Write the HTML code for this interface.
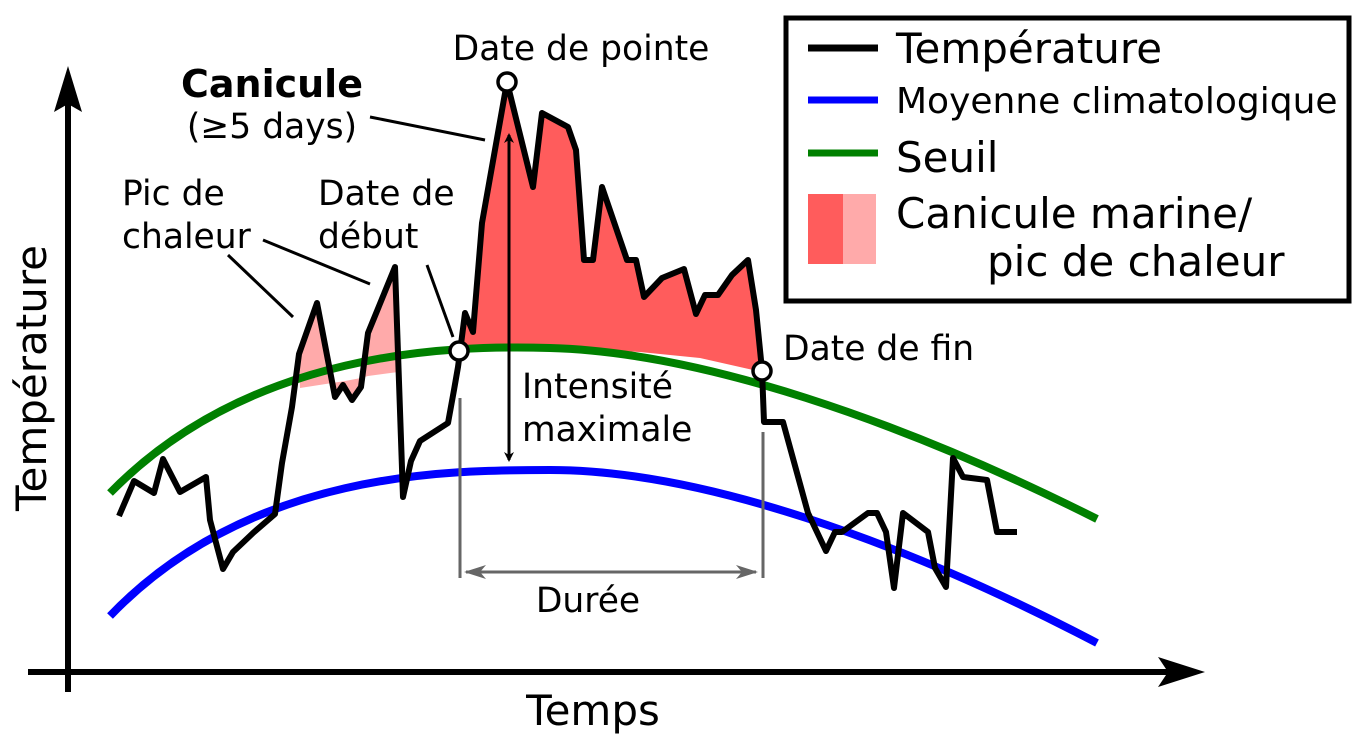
<!DOCTYPE html>
<html><head><meta charset="utf-8"><style>
html,body{margin:0;padding:0;background:#fff;}
svg{display:block;font-family:"DejaVu Sans","Liberation Sans",sans-serif;}
</style></head><body>
<svg width="1366" height="741" viewBox="0 0 1366 741" xmlns="http://www.w3.org/2000/svg">
<defs>
<marker id="ab" markerWidth="10" markerHeight="10" refX="8" refY="5" orient="auto-start-reverse" markerUnits="userSpaceOnUse"><path d="M0,0 L10,5 L0,10 L3,5 Z" fill="#000"/></marker>
<marker id="ag" markerWidth="22" markerHeight="14" refX="20" refY="7" orient="auto-start-reverse" markerUnits="userSpaceOnUse"><path d="M0,0 L22,7 L0,14 L6,7 Z" fill="#666"/></marker>
</defs>
<polygon fill="#ffaaaa" points="299,354 317,303 335,397 343,385 352,400 361,387 368,333 395,267 398,372 368,376 361,378 345,381 300,388"/>
<polygon fill="#ff5c5c" points="459,351 465,313 473,332 482,223 507,82 533,187 542,113 568,127 576,150 584,260 593,260 602,187 627,260 636,260 644,297 662,278 684,269 696,314 705,295 718,295 732,275 748,260 756,310 762,372 700,358 640,352 580,349 520,349 470,351"/>
<path d="M110,616 C 250,470 450,470 550,470 C 700,470 900,540 1097,643" fill="none" stroke="#0000ff" stroke-width="8"/>
<path d="M110,493 C 250,350 450,345 550,348 C 700,352 900,420 1097,519" fill="none" stroke="#008000" stroke-width="8"/>
<line x1="460" y1="398" x2="460" y2="578" stroke="#666" stroke-width="3"/>
<line x1="763" y1="432" x2="763" y2="578" stroke="#666" stroke-width="3"/>
<line x1="466" y1="572" x2="756" y2="572" stroke="#666" stroke-width="3" marker-start="url(#ag)" marker-end="url(#ag)"/>
<polyline fill="none" stroke="#000" stroke-width="6" stroke-linejoin="round" points="119,516 134,481 154,493 163,459 180,492 206,477 210,520 223,569 233,552 253,533 275,514 282,463 292,407 299,354 317,303 335,397 343,385 352,400 361,387 368,333 395,267 403,497 411,461 420,441 448,423 454,390 458,367 460,352 465,313 473,332 482,223 507,82 533,187 542,113 568,127 576,150 584,260 593,260 602,187 627,260 636,260 644,297 662,278 684,269 696,314 705,295 718,295 732,275 748,260 756,310 762,370 764,422 783,422 808,513 826,551 835,532 842,532 868,513 877,513 886,532 894,588 903,513 928,532 935,568 946,587 953,458 963,477 987,480 997,532 1017,532"/>
<line x1="509" y1="135" x2="509" y2="460" stroke="#000" stroke-width="3" marker-start="url(#ab)" marker-end="url(#ab)"/>
<g stroke="#000" stroke-width="3">
<line x1="370" y1="117" x2="485" y2="140"/>
<line x1="228" y1="255" x2="293" y2="317"/>
<line x1="263" y1="240" x2="370" y2="284"/>
<line x1="427" y1="265" x2="453" y2="337"/>
</g>
<g fill="#fff" stroke="#000" stroke-width="3.5">
<circle cx="459" cy="351" r="9"/>
<circle cx="507" cy="82" r="9"/>
<circle cx="762" cy="371" r="9"/>
</g>
<line x1="68" y1="692" x2="68" y2="90" stroke="#000" stroke-width="6"/>
<path d="M68,66 L82,112 L68,104 L54,112 Z" fill="#000"/>
<line x1="28" y1="672" x2="1180" y2="672" stroke="#000" stroke-width="6"/>
<path d="M1205,672 L1158,657 L1168,672 L1158,687 Z" fill="#000"/>
<g fill="#000" font-size="34.5">
<text x="581" y="60" text-anchor="middle">Date de pointe</text>
<text x="272" y="97" text-anchor="middle" font-weight="bold" font-size="38">Canicule</text>
<text x="272" y="138" text-anchor="middle">(≥5 days)</text>
<text x="122" y="205">Pic de</text>
<text x="122" y="248">chaleur</text>
<text x="318" y="205">Date de</text>
<text x="318" y="248">début</text>
<text x="783" y="360">Date de fin</text>
<text x="522" y="398">Intensité</text>
<text x="522" y="441">maximale</text>
<text x="588" y="612" text-anchor="middle">Durée</text>
<text x="593" y="725" text-anchor="middle" font-size="42">Temps</text>
<text transform="translate(46,378) rotate(-90)" text-anchor="middle" font-size="42">Température</text>
</g>
<rect x="786" y="18" width="563" height="283" fill="#fff" stroke="#000" stroke-width="5"/>
<line x1="808" y1="48" x2="878" y2="48" stroke="#000" stroke-width="7"/>
<line x1="808" y1="100" x2="878" y2="100" stroke="#0000ff" stroke-width="7"/>
<line x1="808" y1="153" x2="878" y2="153" stroke="#008000" stroke-width="7"/>
<rect x="808" y="194" width="35" height="70" fill="#ff5c5c"/>
<rect x="843" y="194" width="33" height="70" fill="#ffaaaa"/>
<g fill="#000" font-size="42">
<text x="896" y="63">Température</text>
<text x="896" y="113" font-size="36">Moyenne climatologique</text>
<text x="896" y="172">Seuil</text>
<text x="896" y="228">Canicule marine/</text>
<text x="987" y="276">pic de chaleur</text>
</g>
</svg>
</body></html>
